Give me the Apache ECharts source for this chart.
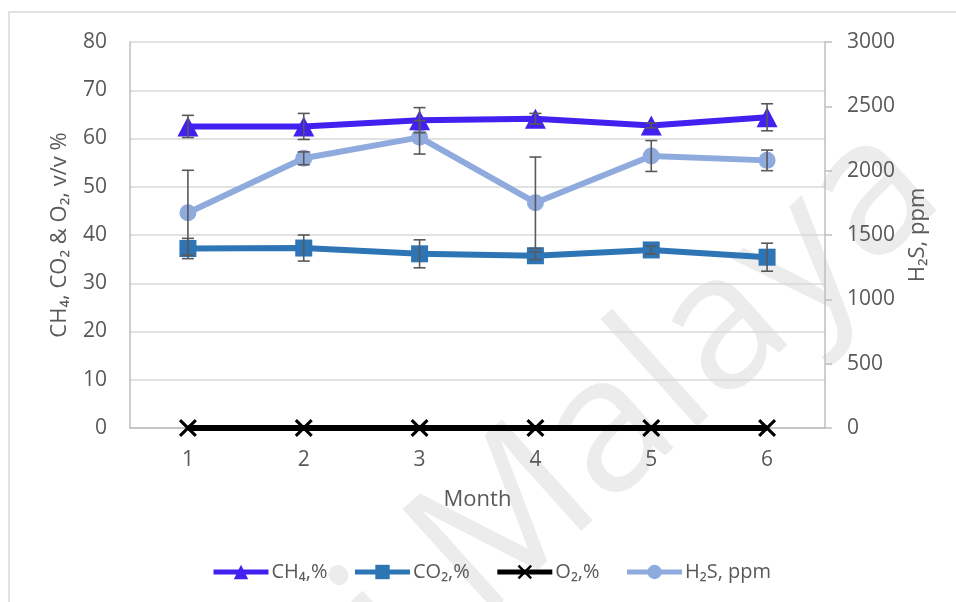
<!DOCTYPE html>
<html>
<head>
<meta charset="utf-8">
<script src="https://cdn.jsdelivr.net/npm/echarts@6/dist/echarts.min.js"></script>
<style>
html,body{margin:0;padding:0;background:#fff;}
#c{width:956px;height:602px;}
</style>
</head>
<body>
<div id="c"></div>
<script>
const months = ['1', '2', '3', '4', '5', '6'];
const ch4 = [62.5, 62.5, 63.8, 64.1, 62.7, 64.4];
const ch4Err = [2.3, 2.7, 2.6, 1.1, 0.5, 2.8];
const co2 = [37.2, 37.3, 36.1, 35.7, 36.9, 35.4];
const co2Err = [2.1, 2.7, 2.9, 0.8, 0.8, 2.9];
const o2 = [0, 0, 0, 0, 0, 0];
const h2s = [1673, 2096, 2259, 1751, 2114, 2080];
const h2sErr = [330, 50, 130, 355, 120, 80];
const leftAxis = { min: 0, max: 80, interval: 10 };
const rightAxis = { min: 0, max: 3000, interval: 500 };
const names = ['CH\u2084,%', 'CO\u2082,%', 'O\u2082,%', 'H\u2082S, ppm'];

const FONT = 'Open Sans';
const TXT = '#595959';
const xPath = 'path://M0,1.2L1.2,0L5,3.8L8.8,0L10,1.2L6.2,5L10,8.8L8.8,10L5,6.2L1.2,10L0,8.8L3.8,5Z';

function errSeries(vals, errs, axisIdx) {
  return {
    type: 'custom',
    yAxisIndex: axisIdx,
    z: 10,
    silent: true,
    data: vals.map((v, i) => [i, v, errs[i]]),
    renderItem: function (params, api) {
      const x = api.value(0), y = api.value(1), e = api.value(2);
      const top = api.coord([x, y + e]);
      const bot = api.coord([x, y - e]);
      const hw = 6;
      const st = { stroke: '#595959', lineWidth: 1.6 };
      return {
        type: 'group',
        children: [
          { type: 'line', shape: { x1: top[0], y1: top[1], x2: bot[0], y2: bot[1] }, style: st },
          { type: 'line', shape: { x1: top[0] - hw, y1: top[1], x2: top[0] + hw, y2: top[1] }, style: st },
          { type: 'line', shape: { x1: bot[0] - hw, y1: bot[1], x2: bot[0] + hw, y2: bot[1] }, style: st }
        ]
      };
    }
  };
}

const chart = echarts.init(document.getElementById('c'));
chart.setOption({
  backgroundColor: '#fff',
  animation: false,
  textStyle: { fontFamily: FONT },
  graphic: [
    {
      type: 'rect', z: -5, silent: true,
      shape: { x: 9, y: 12, width: 960, height: 620 },
      style: { fill: 'none', stroke: '#d9d9d9', lineWidth: 1.5 }
    },
    {
      type: 'text', z: -4, silent: true,
      x: 912, y: 160, rotation: 42 * Math.PI / 180,
      style: {
        text: 'Universiti Malaya', fill: '#ececec',
        font: '190px "Open Sans"', textAlign: 'right', textVerticalAlign: 'middle'
      }
    }
  ],
  grid: { left: 130, right: 131, top: 42, bottom: 174 },
  legend: {
    left: 206, top: 557,
    itemWidth: 55, itemHeight: 18, itemGap: 25,
    lineStyle: { width: 5 },
    textStyle: { fontFamily: FONT, fontSize: 20, color: TXT, padding: [0, 0, 0, -2] },
    data: names
  },
  xAxis: {
    type: 'category',
    data: months,
    boundaryGap: true,
    name: 'Month',
    nameLocation: 'middle',
    nameGap: 61,
    nameTextStyle: { fontFamily: FONT, fontSize: 22, color: TXT },
    axisLine: { show: true, lineStyle: { color: '#bfbfbf', width: 1.5 } },
    axisTick: { show: false },
    axisLabel: { fontFamily: FONT, fontSize: 21, color: TXT, margin: 22 }
  },
  yAxis: [
    {
      type: 'value',
      min: leftAxis.min, max: leftAxis.max, interval: leftAxis.interval,
      name: 'CH\u2084, CO\u2082 & O\u2082, v/v %',
      nameLocation: 'middle',
      nameGap: 59,
      nameTextStyle: { fontFamily: FONT, fontSize: 22, color: TXT },
      axisLine: { show: true, lineStyle: { color: '#bfbfbf', width: 1.5 } },
      axisTick: { show: false },
      axisLabel: { fontFamily: FONT, fontSize: 21, color: TXT, margin: 23 },
      splitLine: { show: true, lineStyle: { color: '#d9d9d9', width: 1.5 } }
    },
    {
      type: 'value',
      position: 'right',
      min: rightAxis.min, max: rightAxis.max, interval: rightAxis.interval,
      name: 'H\u2082S, ppm',
      nameLocation: 'middle',
      nameGap: 82,
      nameRotate: 90,
      nameTextStyle: { fontFamily: FONT, fontSize: 22, color: TXT },
      axisLine: { show: true, lineStyle: { color: '#bfbfbf', width: 1.5 } },
      axisTick: { show: true, inside: false, length: 7, lineStyle: { color: '#bfbfbf', width: 1.5 } },
      axisLabel: { fontFamily: FONT, fontSize: 21, color: TXT, margin: 22, formatter: v => String(v) },
      splitLine: { show: false }
    }
  ],
  series: [
    {
      name: names[0], type: 'line', yAxisIndex: 0, data: ch4, z: 5,
      symbol: 'triangle', symbolSize: [21, 20],
      lineStyle: { color: '#4320F0', width: 6 },
      itemStyle: { color: '#4320F0' }
    },
    {
      name: names[1], type: 'line', yAxisIndex: 0, data: co2, z: 4,
      symbol: 'rect', symbolSize: 17,
      lineStyle: { color: '#2E75B6', width: 6 },
      itemStyle: { color: '#2E75B6' }
    },
    {
      name: names[2], type: 'line', yAxisIndex: 0, data: o2, z: 3,
      symbol: xPath, symbolSize: 18,
      lineStyle: { color: '#000000', width: 6 },
      itemStyle: { color: '#000000' }
    },
    {
      name: names[3], type: 'line', yAxisIndex: 1, data: h2s, z: 3,
      symbol: 'circle', symbolSize: 17,
      lineStyle: { color: '#8FAADC', width: 6 },
      itemStyle: { color: '#8FAADC' }
    },
    errSeries(ch4, ch4Err, 0),
    errSeries(co2, co2Err, 0),
    errSeries(h2s, h2sErr, 1)
  ]
});
</script>
</body>
</html>
